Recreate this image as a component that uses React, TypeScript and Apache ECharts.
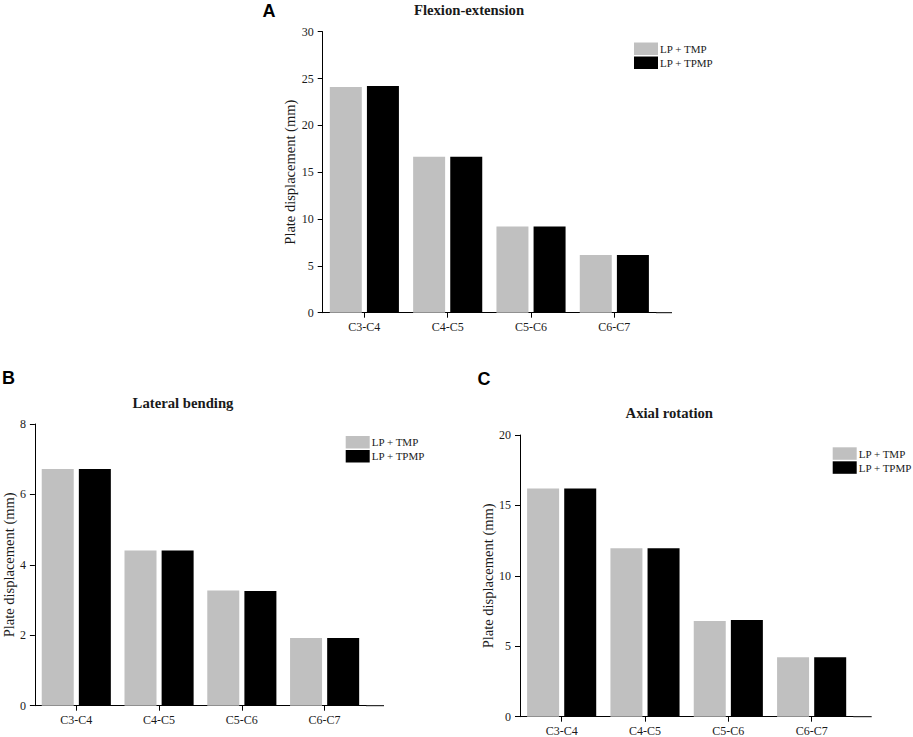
import React, { useEffect, useRef } from "react";
import * as echarts from "echarts";

const categories = ["C3-C4", "C4-C5", "C5-C6", "C6-C7"];
const seriesNames = ["LP + TMP", "LP + TPMP"];
const flexTMP = [24.1, 16.65, 9.2, 6.15];
const flexTPMP = [24.2, 16.65, 9.2, 6.15];
const latTMP = [6.72, 4.41, 3.27, 1.92];
const latTPMP = [6.72, 4.41, 3.26, 1.92];
const axTMP = [16.2, 11.96, 6.8, 4.22];
const axTPMP = [16.2, 11.96, 6.87, 4.22];
const panelTitles = ["Flexion-extension", "Lateral bending", "Axial rotation"];
const panelLetters = ["A", "B", "C"];
const yMax = [30, 8, 20];
const yStep = [5, 2, 5];

const SERIF = "Liberation Serif";
const TXT = "#1a1a1a";
const GRAY = "#c0c0c0";

// layout
const panels = [
  { left: 322.7, top: 31.7, height: 281, axisEnd: 672, nameGap: 25.5, titleX: 469, titleY: 2.5, letterX: 269, letterY: 2, legX: 634, legY: 42.5 },
  { left: 32.7, top: 424, height: 281.7, axisEnd: 384, nameGap: 17, titleX: 183, titleY: 395, letterX: 8.5, letterY: 369, legX: 345.7, legY: 436 },
  { left: 520, top: 435, height: 281.7, axisEnd: 871.7, nameGap: 23, titleX: 669.3, titleY: 405.8, letterX: 484, letterY: 370, legX: 832.7, legY: 447.3 },
];
const GRID_W = 333.3;

export default function App() {
  const ref = useRef<HTMLDivElement>(null);
  useEffect(() => {
    if (!ref.current) return;
    const chart = echarts.init(ref.current, undefined, { renderer: "svg" });
    const data = [
      [flexTMP, flexTPMP],
      [latTMP, latTPMP],
      [axTMP, axTPMP],
    ];
    const option: any = {
      animation: false,
      backgroundColor: "#ffffff",
      title: [] as any[],
      legend: [] as any[],
      grid: [] as any[],
      xAxis: [] as any[],
      yAxis: [] as any[],
      series: [] as any[],
      graphic: [] as any[],
    };
    panels.forEach((p, i) => {
      option.grid.push({ left: p.left, top: p.top, width: GRID_W, height: p.height });
      option.title.push({
        text: panelTitles[i],
        left: p.titleX,
        top: p.titleY,
        textAlign: "center",
        padding: 0,
        textStyle: { fontFamily: SERIF, fontSize: 14.7, fontWeight: "bold", color: TXT },
      });
      option.title.push({
        text: panelLetters[i],
        left: p.letterX,
        top: p.letterY,
        textAlign: "center",
        padding: 0,
        textStyle: { fontFamily: "Liberation Sans", fontSize: 18, fontWeight: "bold", color: "#000" },
      });
      option.legend.push({
        data: seriesNames,
        orient: "vertical",
        left: p.legX,
        top: p.legY,
        padding: 0,
        itemWidth: 24,
        itemHeight: 12.5,
        itemGap: 1.5,
        icon: "rect",
        selectedMode: false,
        textStyle: { fontFamily: SERIF, fontSize: 11, color: TXT, lineHeight: 12.5, padding: [0, 0, 0, -3] },
      });
      option.xAxis.push({
        type: "category",
        gridIndex: i,
        data: categories,
        axisLine: { lineStyle: { color: "#000", width: 1 } },
        axisTick: { show: true, alignWithLabel: true, length: 5, lineStyle: { color: "#000" } },
        axisLabel: { fontFamily: SERIF, fontSize: 12, color: TXT, margin: 8 },
        splitLine: { show: false },
      });
      option.yAxis.push({
        type: "value",
        gridIndex: i,
        min: 0,
        max: yMax[i],
        interval: yStep[i],
        name: "Plate displacement (mm)",
        nameLocation: "middle",
        nameGap: p.nameGap,
        nameTextStyle: { fontFamily: SERIF, fontSize: 14.5, color: TXT },
        axisLine: { show: true, lineStyle: { color: "#000", width: 1 } },
        axisTick: { show: true, length: 5, lineStyle: { color: "#000" } },
        axisLabel: { fontFamily: SERIF, fontSize: 12, color: TXT, margin: 9 },
        splitLine: { show: false },
      });
      seriesNames.forEach((n, k) => {
        option.series.push({
          type: "bar",
          name: n,
          xAxisIndex: i,
          yAxisIndex: i,
          data: data[i][k],
          barWidth: 32,
          barGap: "16%",
          itemStyle: { color: k === 0 ? GRAY : "#000000" },
        });
      });
      const y = p.top + p.height;
      option.graphic.push({
        type: "line",
        shape: { x1: p.left + GRID_W, y1: y, x2: p.axisEnd, y2: y },
        style: { stroke: "#000", lineWidth: 1 },
        silent: true,
      });
    });
    chart.setOption(option);
    return () => chart.dispose();
  }, []);
  return (
    <div
      ref={ref}
      style={{ position: "fixed", left: 0, top: 0, width: 913, height: 737, background: "#fff" }}
    />
  );
}
